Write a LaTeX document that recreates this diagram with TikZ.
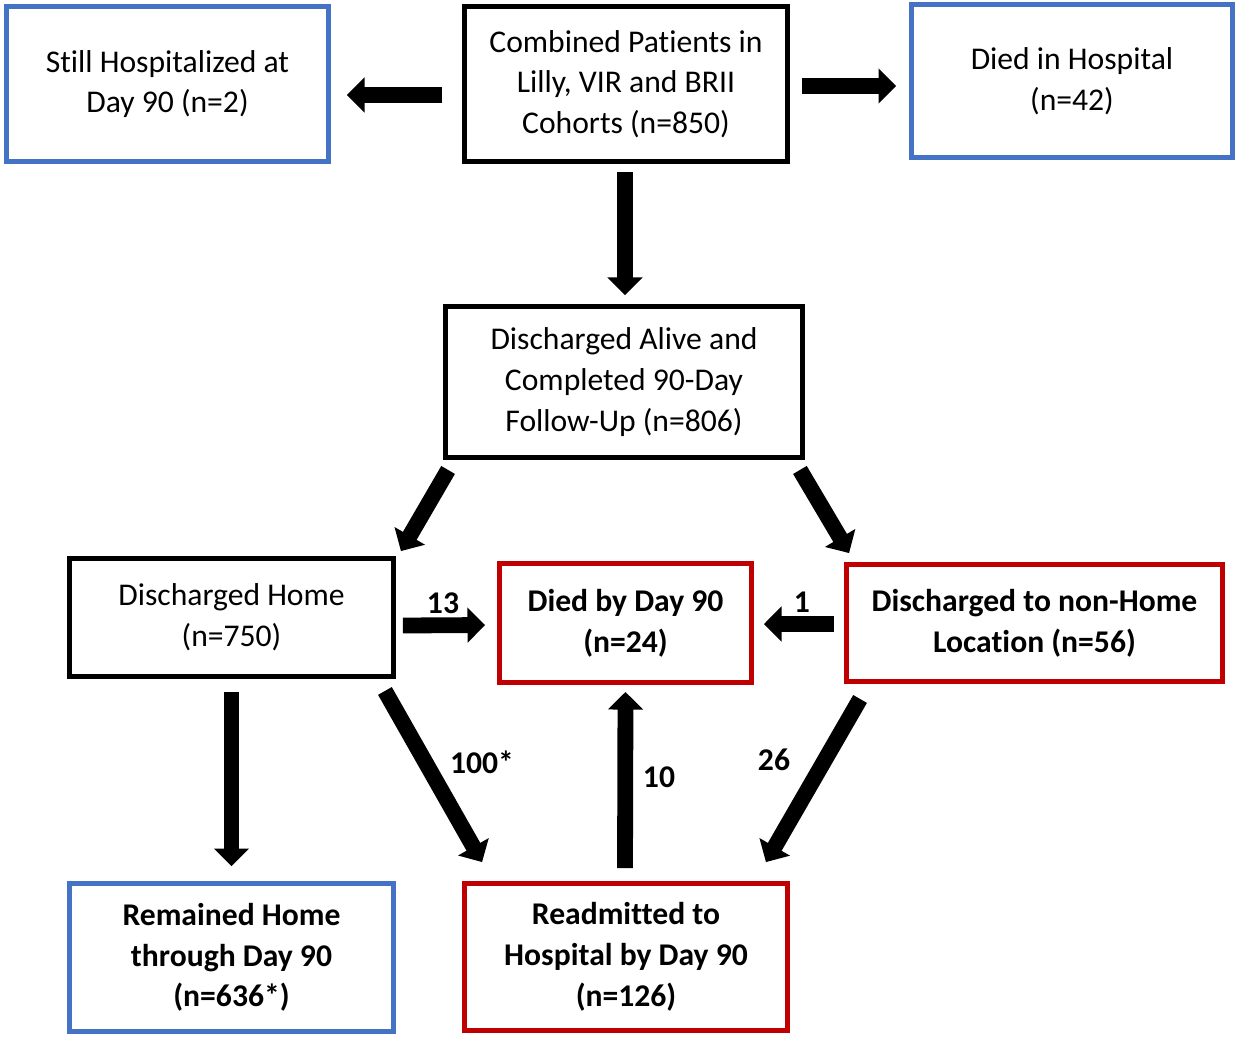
\documentclass[tikz,border=0pt]{standalone}
\usepackage{fontspec}
\setmainfont[Ligatures={NoCommon,NoContextual,NoRequired},Contextuals=NoAlternate]{Carlito}
\usepackage{tikz}
\usetikzlibrary{arrows.meta,calc}
\definecolor{cBlue}{RGB}{68,114,196}
\definecolor{cRed}{RGB}{192,0,0}

\begin{document}
\begin{tikzpicture}[x=0.02cm,y=-0.02cm,
  box/.style={draw,line width=2.8pt,align=center,inner sep=2pt,
    font=\fontsize{18}{23.2}\selectfont},
  fat/.style={line width=9pt,-{Triangle[width=19.5pt,length=10pt]}},
  num/.style={font=\fontsize{18}{23.2}\selectfont\bfseries}]
\useasboundingbox (0,0) rectangle (1237,1036);
% boxes
\node[box,draw=cBlue,minimum width=6.44cm,minimum height=3.1cm] (still) at (167.5,84) {Still Hospitalized at\\Day 90 (n=2)};
\node[box,minimum width=6.46cm,minimum height=3.1cm] (comb) at (626,84) {Combined Patients in\\Lilly, VIR and BRII\\Cohorts (n=850)};
\node[box,draw=cBlue,minimum width=6.42cm,minimum height=3.06cm] (diedH) at (1072,81) {Died in Hospital\\(n=42)};
\node[box,minimum width=7.14cm,minimum height=3.02cm] (alive) at (624,382) {Discharged Alive and\\Completed 90-Day\\Follow-Up (n=806)};
\node[box,minimum width=6.48cm,minimum height=2.36cm] (home) at (231.5,617.5) {Discharged Home\\(n=750)};
\node[box,draw=cRed,font=\fontsize{18}{23.2}\selectfont\bfseries,minimum width=5.04cm,minimum height=2.38cm] (diedD) at (625.5,623) {Died by Day 90\\(n=24)};
\node[box,draw=cRed,font=\fontsize{18}{23.2}\selectfont\bfseries,minimum width=7.52cm,minimum height=2.34cm] (nonhome) at (1034.5,623) {Discharged to non-Home\\Location (n=56)};
\node[box,draw=cBlue,font=\fontsize{18}{23.2}\selectfont\bfseries,minimum width=6.48cm,minimum height=2.96cm] (remained) at (231.5,957.5) {Remained Home\\through Day 90\\(n=636*)};
\node[box,draw=cRed,font=\fontsize{18}{23.2}\selectfont\bfseries,minimum width=6.46cm,minimum height=2.94cm] (readm) at (626,957) {Readmitted to\\Hospital by Day 90\\(n=126)};
% arrows
\draw[fat] ($(comb.west)+(-20,11)$) -- ($(still.east)+(16,11)$);
\draw[fat] ($(comb.east)+(12,2)$) -- ($(diedH.west)+(-13,5)$);
\draw[fat] ($(comb.south)+(-1,8)$) -- ($(alive.north)+(1,-9)$);
\draw[fat] ($(alive.south west)+(5,10)$) -- ($(home.north east)+(5,-5)$);
\draw[fat] ($(alive.south east)+(-5,10)$) -- ($(nonhome.north west)+(5,-9)$);
\draw[fat] ($(home.east)+(7,8)$) -- ($(diedD.west)+(-12,2)$);
\draw[fat] ($(nonhome.west)+(-10,1)$) -- ($(diedD.east)+(10,1)$);
\draw[fat] ($(home.south)+(0,13)$) -- ($(remained.north)+(0,-15)$);
\draw[fat] ($(home.south east)+(-11,12)$) -- ($(readm.north west)+(20,-19)$);
\draw[fat] ($(readm.north)+(-1,-13)$) -- ($(diedD.south)+(0,7)$);
\draw[fat] ($(nonhome.south west)+(16,15)$) -- ($(readm.north east)+(-24,-19)$);
% counts
\node[num] (n13) at (443,603) {13};
\node[num] (n1) at (802,602) {1};
\node[num] (n100) at (482,762) {100*};
\node[num] (n10) at (659,777) {10};
\node[num] (n26) at (774,760) {26};
\end{tikzpicture}
\end{document}
